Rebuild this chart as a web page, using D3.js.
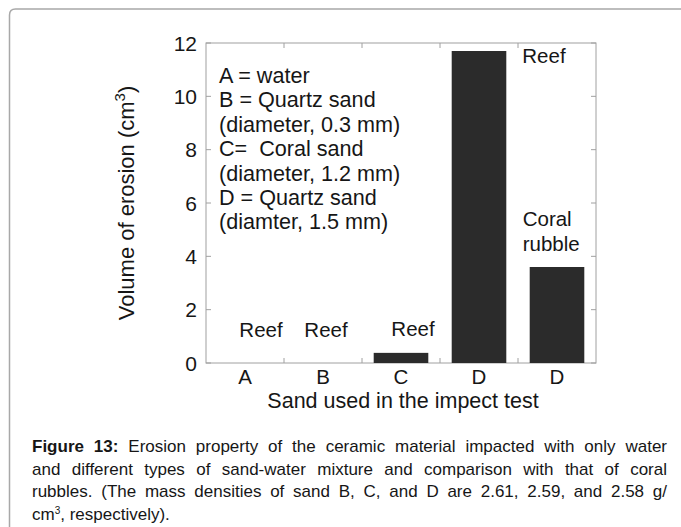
<!DOCTYPE html>
<html>
<head>
<meta charset="utf-8">
<script src="https://cdn.jsdelivr.net/npm/d3@7"></script>
<style>
  body { margin: 0; background: #fff; }
  #wrap { position: relative; width: 681px; height: 527px; overflow: hidden; }
  svg { position: absolute; left: 0; top: 0; }
  text { font-family: "Liberation Sans", Arial, sans-serif; fill: #161616; }
  #caption { position: absolute; left: 32px; top: 436px; width: 635px;
    font-family: "Liberation Sans", Arial, sans-serif; font-size: 17px; line-height: 22.6px; color: #161616; }
  #caption div { text-align: justify; text-align-last: justify; white-space: nowrap; }
  #caption div.last { text-align-last: left; }
  #caption sup { font-size: 10px; vertical-align: 6px; line-height: 0; }
</style>
</head>
<body>
<div id="wrap">
<svg id="chart" width="681" height="527"></svg>
<div id="caption"></div>
</div>
<script>
const categories = ['A', 'B', 'C', 'D', 'D'];
const erosion = [0, 0, 0.38, 11.7, 3.6];
const barNotes = [['Reef'], ['Reef'], ['Reef'], ['Reef'], ['Coral', 'rubble']];
const yTicks = [0, 2, 4, 6, 8, 10, 12];
const legendLines = [
  'A = water',
  'B = Quartz sand',
  '(diameter, 0.3 mm)',
  'C=  Coral sand',
  '(diameter, 1.2 mm)',
  'D = Quartz sand',
  '(diamter, 1.5 mm)'
];
const captionLines = [
  '<b>Figure 13:</b> Erosion property of the ceramic material impacted with only water',
  'and different types of sand-water mixture and comparison with that of coral',
  'rubbles. (The mass densities of sand B, C, and D are 2.61, 2.59, and 2.58 g/',
  'cm<sup>3</sup>, respectively).'
];

const AXIS = '#a0a0a0';
const BAR = '#2b2b2b';

const svg = d3.select('#chart');
const m = { left: 206, right: 596, top: 43, bottom: 363 };

// outer frame of the figure box
svg.append('path')
  .attr('d', 'M9.5,540 V15 Q9.5,9 15.5,9 H690')
  .attr('fill', 'none')
  .attr('stroke', '#a8a8a8')
  .attr('stroke-width', 1.5);

const x = d3.scaleBand()
  .domain(d3.range(categories.length))
  .range([m.left, m.right])
  .paddingInner(0.3)
  .paddingOuter(0.15);

const y = d3.scaleLinear()
  .domain([0, 12])
  .range([m.bottom, m.top]);

const g = svg.append('g');

// frame with inward ticks
const frame = g.append('g');
frame.append('rect')
  .attr('x', m.left).attr('y', m.top)
  .attr('width', m.right - m.left).attr('height', m.bottom - m.top)
  .attr('fill', 'none').attr('stroke', AXIS).attr('stroke-width', 1);

const boundaries = d3.range(1, categories.length).map(i => x(i) - x.step() * x.paddingInner() / 2);

frame.selectAll('.ytl')
  .data(yTicks)
  .enter()
  .append('line')
  .attr('x1', m.left).attr('x2', m.left + 5)
  .attr('y1', d => y(d)).attr('y2', d => y(d))
  .attr('stroke', AXIS);
frame.selectAll('.ytr')
  .data(yTicks)
  .enter()
  .append('line')
  .attr('x1', m.right).attr('x2', m.right - 5)
  .attr('y1', d => y(d)).attr('y2', d => y(d))
  .attr('stroke', AXIS);
frame.selectAll('.xtb')
  .data(boundaries)
  .enter()
  .append('line')
  .attr('x1', d => d).attr('x2', d => d)
  .attr('y1', m.bottom).attr('y2', m.bottom - 5)
  .attr('stroke', AXIS);
frame.selectAll('.xtt')
  .data(boundaries)
  .enter()
  .append('line')
  .attr('x1', d => d).attr('x2', d => d)
  .attr('y1', m.top).attr('y2', m.top + 5)
  .attr('stroke', AXIS);

// bars
g.selectAll('.bar')
  .data(erosion)
  .enter()
  .append('rect')
  .attr('class', 'bar')
  .attr('x', (d, i) => x(i))
  .attr('width', x.bandwidth())
  .attr('y', d => y(d))
  .attr('height', d => y(0) - y(d))
  .attr('fill', BAR);

// tick labels
g.selectAll('.ylab')
  .data(yTicks)
  .enter()
  .append('text')
  .attr('x', m.left - 9)
  .attr('y', d => y(d))
  .attr('dy', '0.36em')
  .attr('text-anchor', 'end')
  .attr('font-size', '21px')
  .text(d => d);

g.selectAll('.xlab')
  .data(categories)
  .enter()
  .append('text')
  .attr('x', (d, i) => x(i) + x.bandwidth() / 2)
  .attr('y', m.bottom + 21)
  .attr('text-anchor', 'middle')
  .attr('font-size', '20.5px')
  .text(d => d);

// axis titles
g.append('text')
  .attr('text-anchor', 'middle')
  .attr('font-size', '21.5px')
  .attr('x', (m.left + m.right) / 2 + 2)
  .attr('y', m.bottom + 45)
  .text('Sand used in the impect test');

const yt = g.append('text')
  .attr('text-anchor', 'middle')
  .attr('font-size', '22px')
  .attr('transform', 'translate(134,' + ((m.top + m.bottom) / 2) + ') rotate(-90)');
yt.append('tspan').text('Volume of erosion (cm');
yt.append('tspan').attr('font-size', '15px').attr('dy', -9).text('3');
yt.append('tspan').attr('dy', 9).text(')');

// legend text
g.selectAll('.leg')
  .data(legendLines)
  .enter()
  .append('text')
  .attr('x', m.left + 13)
  .attr('y', (d, i) => 83 + i * 24.4)
  .attr('font-size', '21.6px')
  .attr('xml:space', 'preserve')
  .style('white-space', 'pre')
  .text(d => d);

// notes next to bars
const noteX = [
  x(0) + x.bandwidth() / 2 + 16,
  x(1) + x.bandwidth() / 2 + 3,
  x(2) + x.bandwidth() / 2 + 12,
  x(3) + x.bandwidth() + 16,
  x(4) - 7
];
barNotes.forEach((lines, i) => {
  const tall = erosion[i] > 3;
  lines.forEach((s, k) => {
    let ny;
    if (i === 3) ny = y(erosion[i]) + 12;
    else if (tall) ny = y(erosion[i]) - 41 + k * 25;
    else ny = y(0) - (i === 2 ? 27 : 26);
    g.append('text')
      .attr('x', noteX[i])
      .attr('y', ny)
      .attr('text-anchor', tall ? 'start' : 'middle')
      .attr('font-size', '20.5px')
      .text(s);
  });
});

// caption
d3.select('#caption')
  .selectAll('div')
  .data(captionLines)
  .enter()
  .append('div')
  .attr('class', (d, i) => i === captionLines.length - 1 ? 'last' : null)
  .html(d => d);
</script>
</body>
</html>
